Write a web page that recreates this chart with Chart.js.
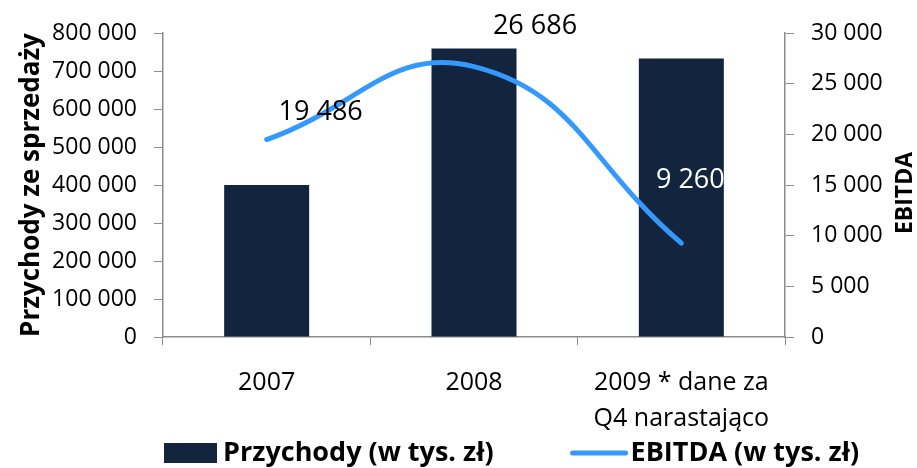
<!DOCTYPE html>
<html>
<head>
<meta charset="utf-8">
<script src="https://cdn.jsdelivr.net/npm/chart.js@4.4.0/dist/chart.umd.min.js"></script>
<style>
	body { margin: 0; background: #fff; }
	#wrap { width: 917px; height: 468px; }
</style>
</head>
<body>
<div id="wrap"><canvas id="wykres" width="917" height="468"></canvas></div>
<script>
const lata = ['2007', '2008', ['2009 * dane za', 'Q4 narastająco']];
const przychody = [400000, 759000, 733000];
const ebitda = [19486, 26686, 9260];
const ticksLewa = [0, 100000, 200000, 300000, 400000, 500000, 600000, 700000, 800000];
const ticksPrawa = [0, 5000, 10000, 15000, 20000, 25000, 30000];

const FONT = '"Open Sans", sans-serif';
const kolorSlupka = '#13243f';
const kolorLinii = '#3399ff';
const kolorOsi = '#8c8c8c';

function formatuj(v) {
	return String(v).replace(/\B(?=(\d{3})+(?!\d))/g, ' ');
}

// etykiety wartosci EBITDA
const etykiety = {
	id: 'etykiety',
	afterDatasetsDraw(chart, args, opts) {
		const meta = chart.getDatasetMeta(1);
		const ctx = chart.ctx;
		ctx.save();
		ctx.font = '27px ' + FONT;
		ctx.textAlign = 'center';
		ctx.textBaseline = 'middle';
		meta.data.forEach((pt, i) => {
			const off = opts.przesuniecia[i];
			ctx.fillStyle = opts.kolory[i];
			ctx.fillText(formatuj(ebitda[i]), pt.x + off[0], pt.y + off[1]);
		});
		ctx.restore();
	}
};

// tytul prawej osi + legenda
const dodatki = {
	id: 'dodatki',
	afterDraw(chart) {
		const ctx = chart.ctx;
		const area = chart.chartArea;
		ctx.save();
		ctx.fillStyle = '#000';
		ctx.font = 'bold 23px ' + FONT;
		ctx.textAlign = 'center';
		ctx.textBaseline = 'middle';
		ctx.translate(905, (area.top + area.bottom) / 2 + 8);
		ctx.rotate(-Math.PI / 2);
		ctx.fillText('EBITDA', 0, 0);
		ctx.restore();

		// legenda
		ctx.save();
		ctx.font = 'bold 27px ' + FONT;
		ctx.textBaseline = 'middle';
		ctx.fillStyle = '#000';
		const y = 453;
		let x = area.left + 1;
		const ds = chart.data.datasets;
		ctx.fillStyle = ds[0].backgroundColor;
		ctx.fillRect(x, y - 10, 53, 20);
		x += 59;
		ctx.fillStyle = '#000';
		ctx.fillText(ds[0].label, x, y);
		x += ctx.measureText(ds[0].label).width + 77;
		ctx.strokeStyle = ds[1].borderColor;
		ctx.lineWidth = 5;
		ctx.lineCap = 'round';
		ctx.beginPath();
		ctx.moveTo(x + 2, y);
		ctx.lineTo(x + 55, y);
		ctx.stroke();
		x += 60;
		ctx.fillText(ds[1].label, x, y);
		ctx.restore();
	}
};

const ctx = document.getElementById('wykres').getContext('2d');
new Chart(ctx, {
	type: 'bar',
	data: {
		labels: lata,
		datasets: [{
			label: 'Przychody (w tys. zł)',
			data: przychody,
			backgroundColor: kolorSlupka,
			barPercentage: 0.41,
			categoryPercentage: 1,
			yAxisID: 'y',
			order: 2
		}, {
			type: 'line',
			label: 'EBITDA (w tys. zł)',
			data: ebitda,
			borderColor: kolorLinii,
			backgroundColor: kolorLinii,
			borderWidth: 5,
			borderCapStyle: 'round',
			tension: 0.45,
			pointRadius: 0,
			yAxisID: 'y1',
			order: 1
		}]
	},
	options: {
		responsive: false,
		animation: false,
		layout: { padding: { top: 33, bottom: 30, left: 0, right: 0 } },
		plugins: {
			legend: { display: false },
			tooltip: { enabled: false },
			etykiety: {
				przesuniecia: [[54, -27], [61, -40], [9, -63]],
				kolory: ['#000', '#000', '#fff']
			}
		},
		scales: {
			x: {
				offset: true,
				grid: { offset: true, drawOnChartArea: false, tickLength: 8, color: kolorOsi },
				border: { color: kolorOsi, width: 1.5 },
				ticks: { color: '#000', font: { family: FONT, size: 25, lineHeight: 1.44 }, padding: 20, maxRotation: 0 },
				afterFit(scale) { scale.height = 101; }
			},
			y: {
				position: 'left',
				min: 0,
				max: 800000,
				afterBuildTicks(scale) { scale.ticks = ticksLewa.map(v => ({ value: v })); },
				grid: { drawOnChartArea: false, tickLength: 9, color: kolorOsi },
				border: { color: kolorOsi, width: 1.5 },
				ticks: { color: '#000', font: { family: FONT, size: 23 }, padding: 17, callback: v => formatuj(v) },
				title: {
					display: true,
					text: 'Przychody ze sprzedaży',
					color: '#000',
					font: { family: FONT, size: 26, weight: 'bold' },
					padding: { top: 16, bottom: 0 }
				},
				afterFit(scale) { scale.width = 163; }
			},
			y1: {
				position: 'right',
				min: 0,
				max: 30000,
				afterBuildTicks(scale) { scale.ticks = ticksPrawa.map(v => ({ value: v })); },
				grid: { drawOnChartArea: false, tickLength: 9, color: kolorOsi },
				border: { color: kolorOsi, width: 1.5 },
				ticks: { color: '#000', font: { family: FONT, size: 23 }, padding: 17, callback: v => formatuj(v) },
				afterFit(scale) { scale.width = 132; }
			}
		}
	},
	plugins: [etykiety, dodatki]
});
</script>
</body>
</html>
